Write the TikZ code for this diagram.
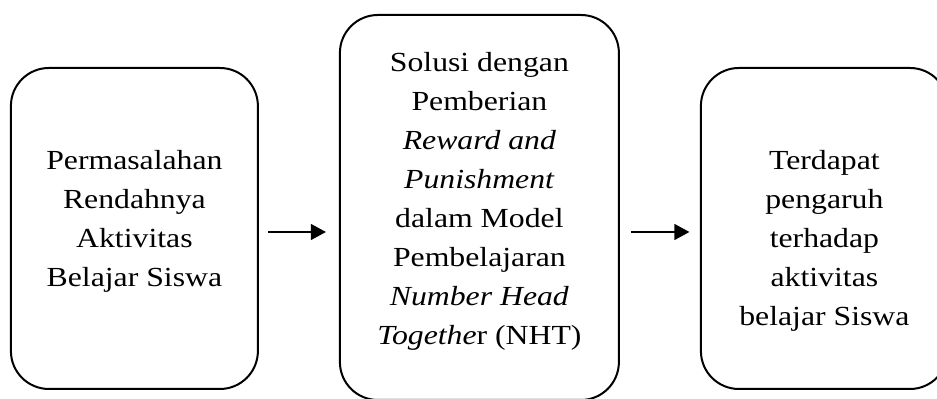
\documentclass[tikz,border=0pt]{standalone}
\usepackage{fontspec}
\setmainfont{Liberation Serif}[FakeStretch=1.15]
\usetikzlibrary{arrows.meta,positioning}

\begin{document}
\begin{tikzpicture}[->,>={Triangle[length=7.5pt,width=8pt]},node distance=172.5pt,line width=0.6pt,
  stage/.style={draw,line width=1pt,rounded corners=19pt,align=center,minimum width=123.5pt,minimum height=160.5pt,text depth=0pt,font=\fontsize{13.8}{19.5}\selectfont},
  tall/.style={minimum width=139.5pt,minimum height=192.5pt}]

\useasboundingbox (-67.2pt,-85.25pt) rectangle (401.3pt,114.25pt);

\node[stage,text height=58.5pt](masalah){Permasalahan\\Rendahnya\\Aktivitas\\Belajar Siswa};
\node[stage,tall,text height=137.5pt](solusi)[right of=masalah,yshift=10.5pt]{Solusi dengan\\Pemberian\\\textit{Reward and}\\\textit{Punishment}\\dalam Model\\Pembelajaran\\\textit{Number Head}\\\textit{Togethe}r (NHT)};
\node[stage,text height=97.5pt](hasil)[right of=solusi,yshift=-10.5pt]{Terdapat\\pengaruh\\terhadap\\aktivitas\\belajar Siswa};

\coordinate (a1) at ([yshift=-1.75pt]masalah.east);
\coordinate (a2) at ([yshift=-1.75pt]hasil.west);

\path(a1)edge[shorten <=4.5pt,shorten >=6.5pt](a1 -| solusi.west)
(a2 -| solusi.east)edge[shorten <=5.5pt,shorten >=5.25pt](a2);

\end{tikzpicture}
\end{document}
